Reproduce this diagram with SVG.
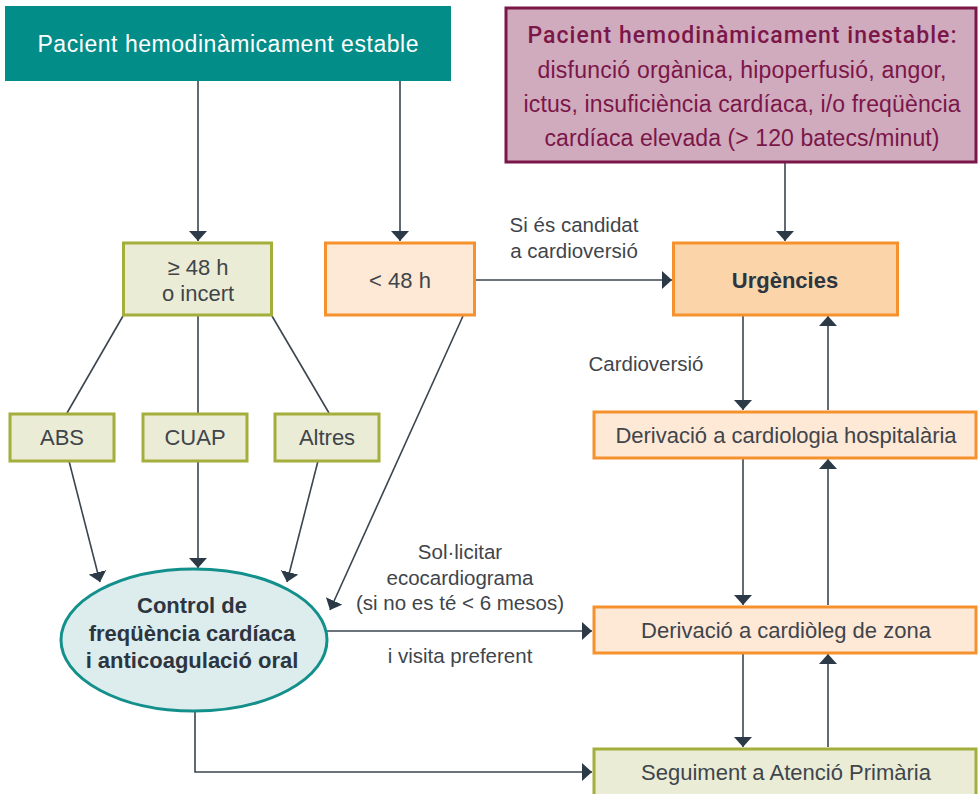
<svg xmlns="http://www.w3.org/2000/svg" width="978" height="794" viewBox="0 0 978 794">
<defs>
<marker id="ah" viewBox="0 0 10 18" refX="10" refY="9" markerWidth="10" markerHeight="18" orient="auto" markerUnits="userSpaceOnUse">
<path d="M0,0 L10,9 L0,18 z" fill="#2c3a47"/>
</marker>
<style>
text{font-family:"Liberation Sans",Arial,sans-serif;font-size:22px;fill:#3f454b;text-anchor:middle}
.b{font-weight:bold;fill:#2c3540}
.lbl{font-size:20.5px}
.big{font-size:23px}
.pur{fill:#7b1649}
.olive{fill:#eaecd6;stroke:#a4ae3b;stroke-width:3}
.orange{fill:#fee8d6;stroke:#f5922d;stroke-width:3}
.c{fill:none;stroke:#3a4550;stroke-width:1.6}
.ca{fill:none;stroke:#3a4550;stroke-width:1.6;marker-end:url(#ah)}
</style>
</defs>
<rect width="978" height="794" fill="#ffffff"/>

<g id="connectors">
<line class="ca" x1="198" y1="81" x2="198" y2="241"/>
<line class="ca" x1="400" y1="81" x2="400" y2="241"/>
<line class="ca" x1="785" y1="163" x2="785" y2="241"/>
<line class="ca" x1="476" y1="280" x2="672" y2="280"/>
<line class="c" x1="123" y1="316" x2="67" y2="413"/>
<line class="c" x1="198" y1="316" x2="198" y2="413"/>
<line class="c" x1="272" y1="316" x2="329" y2="413"/>
<line class="ca" x1="69" y1="461" x2="100" y2="582"/>
<line class="ca" x1="198" y1="461" x2="198" y2="568"/>
<line class="ca" x1="318" y1="461" x2="287" y2="582"/>
<line class="ca" x1="463" y1="316" x2="330" y2="610"/>
<line class="ca" x1="327" y1="631" x2="592" y2="631"/>
<polyline class="ca" points="195,711 195,772 592,772"/>
<line class="ca" x1="743" y1="316" x2="743" y2="410"/>
<line class="ca" x1="828" y1="410" x2="828" y2="316"/>
<line class="ca" x1="743" y1="459" x2="743" y2="605"/>
<line class="ca" x1="828" y1="605" x2="828" y2="459"/>
<line class="ca" x1="743" y1="654" x2="743" y2="747"/>
<line class="ca" x1="828" y1="747" x2="828" y2="654"/>
</g>

<g id="labels">
<text class="lbl" x="574" y="232">Si és candidat</text>
<text class="lbl" x="574" y="258">a cardioversió</text>
<text class="lbl" x="646" y="371">Cardioversió</text>
<text class="lbl" x="460" y="559">Sol·licitar</text>
<text class="lbl" x="460" y="585">ecocardiograma</text>
<text class="lbl" x="460" y="610">(si no es té &lt; 6 mesos)</text>
<text class="lbl" x="460" y="663">i visita preferent</text>
</g>

<g id="estable">
<rect x="5" y="6" width="446" height="75" fill="#028d89"/>
<text class="big" x="228" y="52" style="fill:#ffffff" textLength="381" lengthAdjust="spacing">Pacient hemodinàmicament estable</text>
</g>

<g id="inestable">
<rect x="506" y="8" width="470" height="154" fill="#d0aabd" stroke="#7b1649" stroke-width="3"/>
<text class="pur" x="742" y="43" style="font-family:Roboto,'Liberation Sans',sans-serif;font-weight:500;font-size:23px" textLength="429" lengthAdjust="spacing">Pacient hemodinàmicament inestable:</text>
<text class="big pur" x="742" y="78" textLength="409" lengthAdjust="spacing">disfunció orgànica, hipoperfusió, angor,</text>
<text class="big pur" x="742" y="112" textLength="437" lengthAdjust="spacing">ictus, insuficiència cardíaca, i/o freqüència</text>
<text class="big pur" x="742" y="146" textLength="395" lengthAdjust="spacing">cardíaca elevada (&gt; 120 batecs/minut)</text>
</g>

<g id="ge48">
<rect class="olive" x="123.5" y="243" width="148" height="72"/>
<text x="198" y="275">≥ 48 h</text>
<text x="198" y="301">o incert</text>
</g>

<g id="lt48">
<rect class="orange" x="325.5" y="243" width="149" height="72"/>
<text x="400" y="288">&lt; 48 h</text>
</g>

<g id="urgencies">
<rect x="673.5" y="243" width="224" height="72" fill="#fbd4aa" stroke="#f5922d" stroke-width="3"/>
<text class="b" x="785" y="288">Urgències</text>
</g>

<g id="abs">
<rect class="olive" x="10" y="414" width="104" height="47"/>
<text x="62" y="445">ABS</text>
</g>
<g id="cuap">
<rect class="olive" x="143" y="414" width="104" height="47"/>
<text x="195" y="445">CUAP</text>
</g>
<g id="altres">
<rect class="olive" x="275" y="414" width="104" height="47"/>
<text x="327" y="445">Altres</text>
</g>

<g id="control">
<ellipse cx="194" cy="640" rx="133" ry="71" fill="#ddeded" stroke="#13908b" stroke-width="3"/>
<text class="b" x="192" y="613">Control de</text>
<text class="b" x="192" y="641">freqüència cardíaca</text>
<text class="b" x="192" y="668">i anticoagulació oral</text>
</g>

<g id="hospitalaria">
<rect class="orange" x="594" y="412" width="382" height="46"/>
<text x="786" y="443">Derivació a cardiologia hospitalària</text>
</g>

<g id="zona">
<rect class="orange" x="594" y="607" width="382" height="46"/>
<text x="786" y="638">Derivació a cardiòleg de zona</text>
</g>

<g id="primaria">
<rect class="olive" x="594" y="749" width="382" height="48"/>
<text x="786" y="780">Seguiment a Atenció Primària</text>
</g>
</svg>
